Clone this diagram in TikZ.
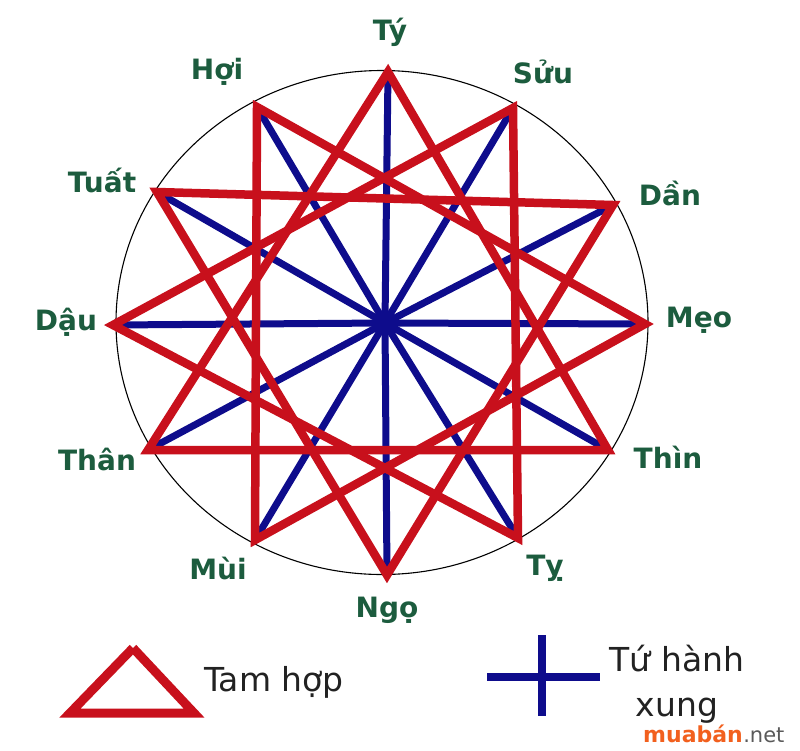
\documentclass[tikz,border=0pt]{standalone}
\usepackage{fontspec}
\setmainfont{DejaVu Sans}
\definecolor{tamred}{RGB}{200,16,28}
\definecolor{xungblue}{RGB}{14,12,140}
\definecolor{lblgreen}{RGB}{28,92,62}
\definecolor{legtext}{RGB}{34,34,34}
\definecolor{wmorange}{RGB}{242,96,30}
\definecolor{wmgray}{RGB}{90,90,90}
\begin{document}
\begin{tikzpicture}[x=1pt,y=-1pt,
  redline/.style={draw=tamred,line width=8.5pt,line join=miter},
  blueline/.style={draw=xungblue,line width=7pt},
  lbl/.style={text=lblgreen,font=\fontsize{28}{30}\selectfont\bfseries,inner sep=0pt},
  legtxt/.style={text=legtext,font=\fontsize{33}{38}\selectfont,inner sep=0pt,align=center}]
\useasboundingbox (0,0) rectangle (800,750);
\fill[white] (0,0) rectangle (800,750);
% circle
\draw[black,line width=1.1pt] (382,322.5) ellipse [x radius=266, y radius=252];
% vertices
\coordinate (O) at (385,323);
\coordinate (ty) at (388,72);
\coordinate (suu) at (513,108);
\coordinate (dan) at (613,205);
\coordinate (meo) at (645,324);
\coordinate (thin) at (608,450);
\coordinate (tyy) at (518,538);
\coordinate (ngo) at (387,575);
\coordinate (mui) at (255,540);
\coordinate (than) at (148,450);
\coordinate (dau) at (113,325);
\coordinate (tuat) at (157,192);
\coordinate (hoi) at (257,107);
% blue lines (tu hanh xung)
\foreach \p in {ty,suu,dan,meo,thin,tyy,ngo,mui,than,dau,tuat,hoi}
  \draw[blueline] (O) -- (\p);
% red triangles (tam hop)
\draw[redline] (ty) -- (thin) -- (than) -- cycle;
\draw[redline] (suu) -- (tyy) -- (dau) -- cycle;
\draw[redline] (dan) -- (ngo) -- (tuat) -- cycle;
\draw[redline] (meo) -- (mui) -- (hoi) -- cycle;
% labels
\node[lbl] (lty) at (390,32) {Tý};
\node[lbl] (lsuu) at (543,72) {Sửu};
\node[lbl] (ldan) at (670,193) {Dần};
\node[lbl] (lmeo) at (699,320) {Mẹo};
\node[lbl] (lthin) at (668,457) {Thìn};
\node[lbl] (ltyy) at (545,568) {Tỵ};
\node[lbl] (lngo) at (387,610) {Ngọ};
\node[lbl] (lmui) at (218,568) {Mùi};
\node[lbl] (lthan) at (97,459) {Thân};
\node[lbl] (ldau) at (66,322) {Dậu};
\node[lbl] (ltuat) at (102,180) {Tuất};
\node[lbl] (lhoi) at (217,72) {Hợi};
% legend: triangle
\coordinate (ta) at (133,648);
\coordinate (tr) at (194,713);
\coordinate (tl) at (70,713);
\draw[redline,line width=9pt] (ta) -- (tr) -- (tl) -- (ta);
\node[legtxt,anchor=west] (ltam) at (204,682) {Tam hợp};
% legend: cross
\coordinate (cv1) at (542,635);
\coordinate (cv2) at (542,716);
\coordinate (ch1) at (487,677);
\coordinate (ch2) at (600,677);
\draw[blueline,line width=8pt] (cv1) -- (cv2);
\draw[blueline,line width=8pt] (ch1) -- (ch2);
\node[legtxt] (lxung) at (677,684) {Tứ hành\\[7pt]xung};
% watermark
\node[inner sep=0pt,anchor=base west,text=wmorange,font=\fontsize{22}{24}\selectfont\bfseries] (wm1) at (643,742) {muabán};
\node[inner sep=0pt,anchor=base west,text=wmgray,font=\fontsize{21}{24}\selectfont] (wm2) at (wm1.base east) {.net};
\end{tikzpicture}
\end{document}
